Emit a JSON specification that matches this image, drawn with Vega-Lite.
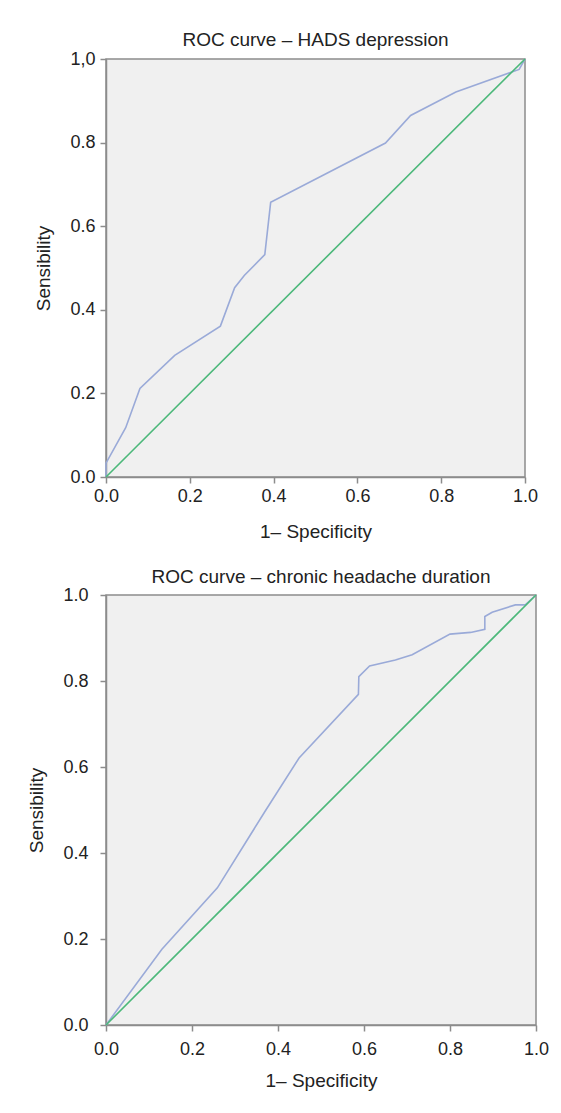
{
  "$schema": "https://vega.github.io/schema/vega-lite/v6.json",
  "padding": {"left": 27, "top": 30, "right": 5, "bottom": 5},
  "background": "white",
  "spacing": 25,
  "config": {
    "font": "Liberation Sans",
    "view": {"fill": "#f0f0f0", "stroke": "#8c8c8c", "strokeWidth": 1.5},
    "title": {"fontSize": 19, "fontWeight": "normal", "color": "#222", "offset": 0, "font": "Liberation Sans"},
    "axis": {
      "grid": false,
      "domainColor": "#8c8c8c",
      "domainWidth": 1.5,
      "tickColor": "#8c8c8c",
      "tickWidth": 1.5,
      "tickSize": 6,
      "labelFontSize": 18,
      "labelColor": "#222",
      "labelFlush": false,
      "labelOverlap": false,
      "titleFontSize": 19,
      "titleFontWeight": "normal",
      "titleColor": "#222",
      "labelFont": "Liberation Sans",
      "titleFont": "Liberation Sans"
    }
  },
  "datasets": {
    "roc": [
      {"panel": "A", "series": "curve", "ord": 0, "fpr": 0.0, "tpr": 0.0},
      {"panel": "A", "series": "curve", "ord": 1, "fpr": 0.0, "tpr": 0.033},
      {"panel": "A", "series": "curve", "ord": 2, "fpr": 0.047, "tpr": 0.118},
      {"panel": "A", "series": "curve", "ord": 3, "fpr": 0.081, "tpr": 0.212},
      {"panel": "A", "series": "curve", "ord": 4, "fpr": 0.164, "tpr": 0.291},
      {"panel": "A", "series": "curve", "ord": 5, "fpr": 0.273, "tpr": 0.361},
      {"panel": "A", "series": "curve", "ord": 6, "fpr": 0.307, "tpr": 0.453},
      {"panel": "A", "series": "curve", "ord": 7, "fpr": 0.33, "tpr": 0.482},
      {"panel": "A", "series": "curve", "ord": 8, "fpr": 0.379, "tpr": 0.532},
      {"panel": "A", "series": "curve", "ord": 9, "fpr": 0.393, "tpr": 0.657},
      {"panel": "A", "series": "curve", "ord": 10, "fpr": 0.667, "tpr": 0.799},
      {"panel": "A", "series": "curve", "ord": 11, "fpr": 0.727, "tpr": 0.865},
      {"panel": "A", "series": "curve", "ord": 12, "fpr": 0.835, "tpr": 0.921},
      {"panel": "A", "series": "curve", "ord": 13, "fpr": 0.986, "tpr": 0.975},
      {"panel": "A", "series": "curve", "ord": 14, "fpr": 1.0, "tpr": 1.0},
      {"panel": "A", "series": "ref", "ord": 0, "fpr": 0.0, "tpr": 0.0},
      {"panel": "A", "series": "ref", "ord": 1, "fpr": 1.0, "tpr": 1.0},
      {"panel": "B", "series": "curve", "ord": 0, "fpr": 0.0, "tpr": 0.0},
      {"panel": "B", "series": "curve", "ord": 1, "fpr": 0.13, "tpr": 0.176},
      {"panel": "B", "series": "curve", "ord": 2, "fpr": 0.259, "tpr": 0.319},
      {"panel": "B", "series": "curve", "ord": 3, "fpr": 0.37, "tpr": 0.497},
      {"panel": "B", "series": "curve", "ord": 4, "fpr": 0.449, "tpr": 0.621},
      {"panel": "B", "series": "curve", "ord": 5, "fpr": 0.587, "tpr": 0.769},
      {"panel": "B", "series": "curve", "ord": 6, "fpr": 0.588, "tpr": 0.81},
      {"panel": "B", "series": "curve", "ord": 7, "fpr": 0.613, "tpr": 0.835},
      {"panel": "B", "series": "curve", "ord": 8, "fpr": 0.673, "tpr": 0.849},
      {"panel": "B", "series": "curve", "ord": 9, "fpr": 0.712, "tpr": 0.861},
      {"panel": "B", "series": "curve", "ord": 10, "fpr": 0.8, "tpr": 0.909},
      {"panel": "B", "series": "curve", "ord": 11, "fpr": 0.848, "tpr": 0.913},
      {"panel": "B", "series": "curve", "ord": 12, "fpr": 0.881, "tpr": 0.92},
      {"panel": "B", "series": "curve", "ord": 13, "fpr": 0.881, "tpr": 0.95},
      {"panel": "B", "series": "curve", "ord": 14, "fpr": 0.898, "tpr": 0.96},
      {"panel": "B", "series": "curve", "ord": 15, "fpr": 0.952, "tpr": 0.977},
      {"panel": "B", "series": "curve", "ord": 16, "fpr": 0.975, "tpr": 0.977},
      {"panel": "B", "series": "curve", "ord": 17, "fpr": 1.0, "tpr": 1.0},
      {"panel": "B", "series": "ref", "ord": 0, "fpr": 0.0, "tpr": 0.0},
      {"panel": "B", "series": "ref", "ord": 1, "fpr": 1.0, "tpr": 1.0}
    ]
  },
  "vconcat": [
    {
      "title": {"text": "ROC curve – HADS depression", "offset": 0},
      "width": 419,
      "height": 418,
      "data": {"name": "roc"},
      "transform": [{"filter": "datum.panel == 'A'"}],
      "encoding": {
        "x": {"field": "fpr", "type": "quantitative", "scale": {"domain": [0, 1], "nice": false},
          "axis": {"title": "1– Specificity", "values": [0, 0.2, 0.4, 0.6, 0.8, 1], "format": ".1f", "labelPadding": 4, "titlePadding": 17}},
        "y": {"field": "tpr", "type": "quantitative", "scale": {"domain": [0, 1], "nice": false},
          "axis": {"title": "Sensibility", "values": [0, 0.2, 0.4, 0.6, 0.8, 1], "labelExpr": "datum.value == 1 ? '1,0' : format(datum.value, '.1f')", "labelPadding": 5, "titlePadding": 16}},
        "order": {"field": "ord", "type": "quantitative"}
      },
      "layer": [
        {"transform": [{"filter": "datum.series == 'curve'"}], "mark": {"type": "line", "color": "#9aaad8", "strokeWidth": 1.6}},
        {"transform": [{"filter": "datum.series == 'ref'"}], "mark": {"type": "line", "color": "#4cb87a", "strokeWidth": 1.6}}
      ]
    },
    {
      "title": {"text": "ROC curve – chronic headache duration", "offset": -1},
      "width": 430,
      "height": 430,
      "data": {"name": "roc"},
      "transform": [{"filter": "datum.panel == 'B'"}],
      "encoding": {
        "x": {"field": "fpr", "type": "quantitative", "scale": {"domain": [0, 1], "nice": false},
          "axis": {"title": "1– Specificity", "values": [0, 0.2, 0.4, 0.6, 0.8, 1], "format": ".1f", "labelPadding": 9, "titlePadding": 13}},
        "y": {"field": "tpr", "type": "quantitative", "scale": {"domain": [0, 1], "nice": false},
          "axis": {"title": "Sensibility", "values": [0, 0.2, 0.4, 0.6, 0.8, 1], "format": ".1f", "labelPadding": 12, "titlePadding": 16}},
        "order": {"field": "ord", "type": "quantitative"}
      },
      "layer": [
        {"transform": [{"filter": "datum.series == 'curve'"}], "mark": {"type": "line", "color": "#9aaad8", "strokeWidth": 1.6}},
        {"transform": [{"filter": "datum.series == 'ref'"}], "mark": {"type": "line", "color": "#4cb87a", "strokeWidth": 1.6}}
      ]
    }
  ]
}
